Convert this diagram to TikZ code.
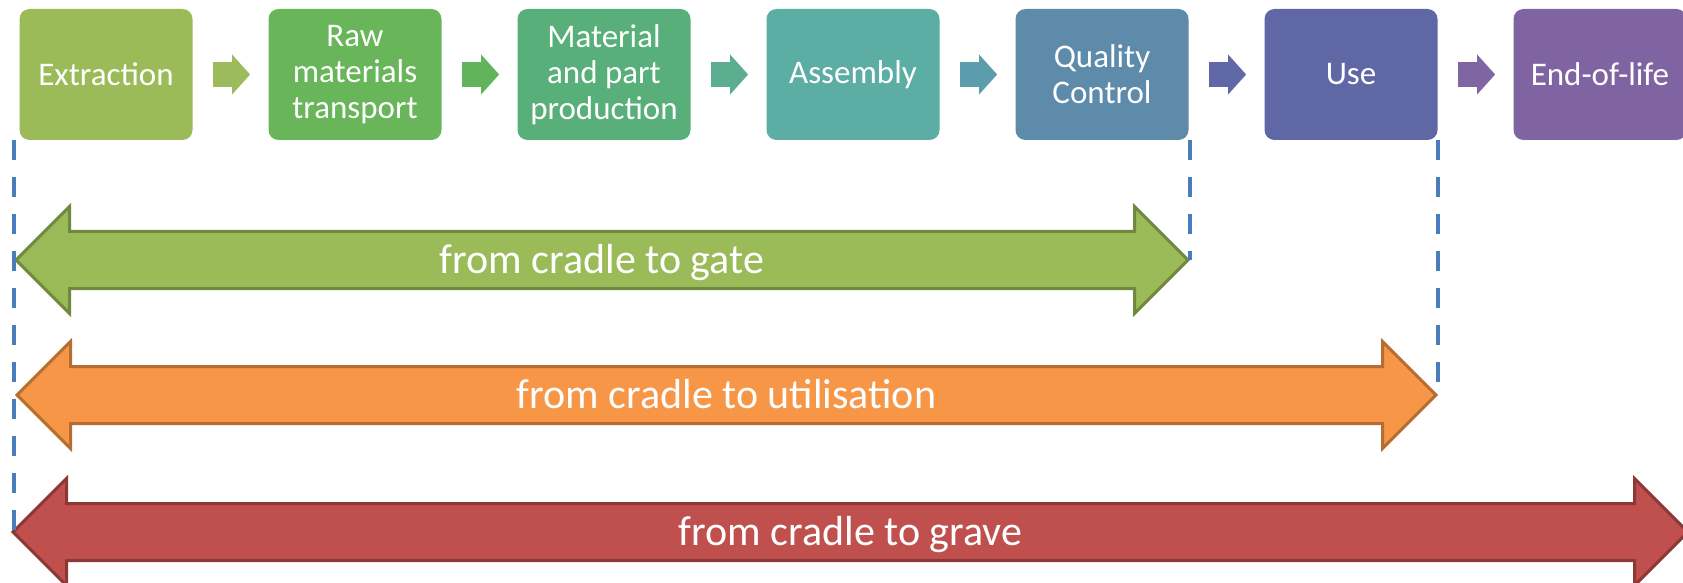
\documentclass[tikz,border=0pt]{standalone}
\usepackage{fontspec}
\setmainfont{Carlito}
\usetikzlibrary{shapes,arrows,arrows.meta,positioning,calc}

\definecolor{extc}{HTML}{9BBB59}
\definecolor{rawc}{HTML}{68B55A}
\definecolor{prodc}{HTML}{59AF79}
\definecolor{asmc}{HTML}{5CADA3}
\definecolor{qcc}{HTML}{5E8BAA}
\definecolor{usec}{HTML}{6067A5}
\definecolor{eolc}{HTML}{8064A2}
\definecolor{aonec}{HTML}{9CBB5A}
\definecolor{atwoc}{HTML}{62B45A}
\definecolor{athreec}{HTML}{5BAE90}
\definecolor{afourc}{HTML}{5C9DAD}
\definecolor{afivec}{HTML}{6068A7}
\definecolor{asixc}{HTML}{8065A3}
\definecolor{gatec}{HTML}{9BBB59}
\definecolor{gatel}{HTML}{71893F}
\definecolor{utilc}{HTML}{F79646}
\definecolor{utill}{HTML}{B66D31}
\definecolor{gravec}{HTML}{C0504D}
\definecolor{gravel}{HTML}{8C3836}
\definecolor{guidec}{HTML}{4A7EBB}

\begin{document}
\begin{tikzpicture}[x=0.5pt, y=-0.5pt, node distance=124.5pt,
    stage/.style={rectangle, rounded corners=5pt, minimum width=86.5pt, minimum height=65.5pt, inner sep=1pt, align=center, text=white, font=\fontsize{16.5}{18}\selectfont},
    flow/.style={line width=12.5pt, -{Triangle[length=9pt, width=20pt, line width=0pt]}, shorten <=10pt, shorten >=9pt},
    span/.style={double arrow, double arrow head extend=12.5pt, minimum width=52pt, inner xsep=0pt, inner ysep=5pt, text height=15pt, text depth=2pt, line width=1.5pt, text=white, font=\fontsize{21}{25}\selectfont},
    guide/.style={draw=guidec, line width=2pt, dash pattern=on 10pt off 8.5pt}]
    \useasboundingbox (0,0) rectangle (1683,583);

    \node (ext) [stage, fill=extc] at (106,74.5) {Extraction};
    \node (raw) [stage, fill=rawc, right of=ext] {Raw\\materials\\transport};
    \node (prod) [stage, fill=prodc, right of=raw] {Material\\and part\\production};
    \node (asm) [stage, fill=asmc, right of=prod] {Assembly};
    \node (qc) [stage, fill=qcc, right of=asm] {Quality\\Control};
    \node (use) [stage, fill=usec, right of=qc] {Use};
    \node (eol) [stage, fill=eolc, right of=use] {End-of-life};

    \draw [flow, draw=aonec] (ext) -- (raw);
    \draw [flow, draw=atwoc] (raw) -- (prod);
    \draw [flow, draw=athreec] (prod) -- (asm);
    \draw [flow, draw=afourc] (asm) -- (qc);
    \draw [flow, draw=afivec] (qc) -- (use);
    \draw [flow, draw=asixc] (use) -- (eol);

    \node (gate) [span, fill=gatec, draw=gatel, minimum height=586pt] at (602,260) {from cradle to gate};
    \node (util) [span, fill=utilc, draw=utill, minimum height=709.5pt] at (726.5,395) {from cradle to utilisation};
    \node (grave) [span, fill=gravec, draw=gravel, minimum height=837.5pt] at (850.5,532) {from cradle to grave};

    \draw [guide] (gate.west |- ext.south) -- (gate.west |- grave.west);
    \draw [guide] (gate.east |- qc.south) -- (gate.east);
    \draw [guide] (util.east |- use.south) -- (util.east);
\end{tikzpicture}
\end{document}
